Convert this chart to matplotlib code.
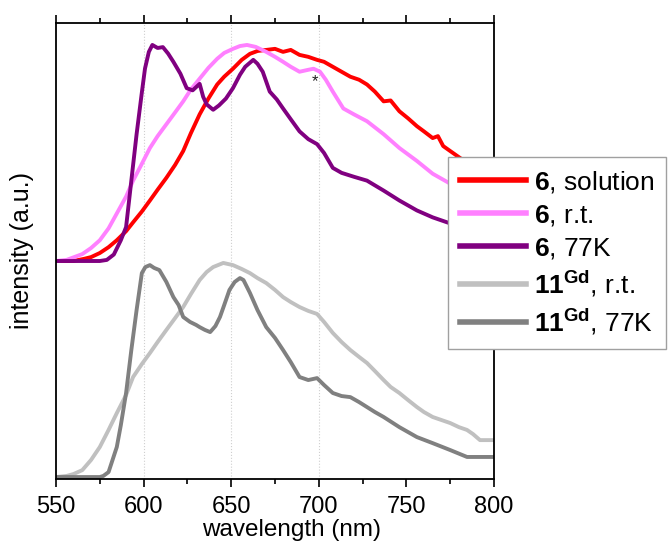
import numpy as np
import matplotlib
matplotlib.use("Agg")
import matplotlib.pyplot as plt
from matplotlib.ticker import MultipleLocator

plt.rcParams["font.family"] = ["Liberation Sans", "DejaVu Sans"]
plt.rcParams["mathtext.fontset"] = "custom"
plt.rcParams["mathtext.rm"] = "Liberation Sans"
plt.rcParams["mathtext.bf"] = "Liberation Sans:bold"

# ---- spectra (normalised emission intensity) ----
wl_6_sol = [550, 560, 566, 570, 575, 580, 584.7, 590, 594, 599, 603.6, 608, 613, 618, 622.6,
            627, 632, 637, 642, 646, 651, 656, 660.7, 665, 670, 675, 679.6, 684, 689, 694,
            699, 703, 708, 713, 718, 723, 727.5, 732, 737, 741, 746, 751, 756, 760, 765, 768,
            771, 775, 780.6, 790, 800]
int_6_sol = [0, 0, 0.01, 0.018, 0.037, 0.064, 0.096, 0.138, 0.179, 0.229, 0.28, 0.33, 0.385,
             0.445, 0.509, 0.592, 0.679, 0.752, 0.817, 0.853, 0.89, 0.931, 0.959, 0.972, 0.977,
             0.982, 0.968, 0.977, 0.954, 0.945, 0.931, 0.922, 0.899, 0.876, 0.853, 0.839, 0.817,
             0.784, 0.739, 0.743, 0.693, 0.66, 0.624, 0.60, 0.569, 0.578, 0.532, 0.509, 0.477,
             0.427, 0.372]

wl_6_rt = [550, 556, 565, 570, 575, 580, 584.7, 590, 594, 599, 603.6, 608, 613, 618, 622.6, 627,
           632, 637, 642, 646, 651, 655, 659, 664, 670, 675, 679.6, 684, 689, 694, 697, 700.7,
           704, 708, 714, 720, 727.5, 737, 746, 756, 765, 775, 785, 800]
int_6_rt = [0, 0.005, 0.032, 0.06, 0.096, 0.151, 0.22, 0.298, 0.372, 0.45, 0.523, 0.578, 0.633,
            0.688, 0.739, 0.794, 0.844, 0.894, 0.936, 0.963, 0.982, 0.995, 1.0, 0.991, 0.968,
            0.945, 0.922, 0.899, 0.876, 0.885, 0.89, 0.876, 0.839, 0.784, 0.706, 0.679, 0.647,
            0.587, 0.523, 0.463, 0.404, 0.358, 0.312, 0.257]

wl_6_77 = [550, 575, 579, 583, 587, 590, 596, 599, 600.8, 603, 605, 608, 611, 614, 617, 621,
           624.6, 628, 632, 634, 636, 639.7, 643, 647, 651, 655, 658, 662.6, 665, 668, 672, 676,
           679.6, 684, 689, 694, 699, 703, 708, 713, 720, 727.5, 737, 746, 756, 765, 775, 785, 800]
int_6_77 = [0, 0, 0.005, 0.03, 0.096, 0.157, 0.587, 0.78, 0.891, 0.968, 1.0, 0.986, 0.99, 0.96,
            0.922, 0.867, 0.80, 0.79, 0.82, 0.76, 0.725, 0.70, 0.72, 0.752, 0.80, 0.862, 0.899,
            0.931, 0.913, 0.876, 0.784, 0.748, 0.706, 0.656, 0.60, 0.564, 0.541, 0.50, 0.431,
            0.408, 0.39, 0.372, 0.326, 0.28, 0.234, 0.202, 0.174, 0.151, 0.119]

wl_11_rt = [550, 556, 560, 565, 570, 575, 580, 584.7, 590, 594, 599, 603.6, 608, 613, 618, 622.6,
            627, 632, 636, 639.7, 645.5, 651, 656, 660.7, 665, 670, 675, 679.6, 684, 689, 694,
            699, 703, 708, 713, 718, 723, 727.5, 732, 737, 741, 746, 751, 756, 760, 765, 770,
            775, 780, 784.6, 788, 792, 800]
int_11_rt = [0, 0.005, 0.014, 0.032, 0.079, 0.139, 0.218, 0.296, 0.38, 0.463, 0.523, 0.574,
             0.625, 0.681, 0.736, 0.787, 0.847, 0.912, 0.949, 0.972, 0.991, 0.981, 0.963, 0.944,
             0.921, 0.898, 0.866, 0.833, 0.81, 0.787, 0.769, 0.755, 0.718, 0.667, 0.625, 0.588,
             0.556, 0.528, 0.491, 0.449, 0.417, 0.389, 0.356, 0.324, 0.301, 0.278, 0.264, 0.25,
             0.231, 0.218, 0.199, 0.171, 0.171]

wl_11_77 = [550, 575, 577, 580, 584.7, 587, 590, 593, 596, 599, 601, 603.6, 606, 609, 613, 617,
            620, 622.6, 626.5, 630, 632, 635, 638, 641, 643.6, 646, 649, 652, 655, 657, 660.7,
            665, 670, 675, 679.6, 684, 689, 694, 699, 703, 708, 713, 718, 723, 727.5, 732, 737,
            746, 756, 765, 775, 784.6, 792, 800]
int_11_77 = [0, 0, 0.005, 0.023, 0.139, 0.24, 0.389, 0.588, 0.773, 0.944, 0.972, 0.981, 0.968,
             0.958, 0.903, 0.833, 0.796, 0.741, 0.718, 0.704, 0.694, 0.681, 0.671, 0.699, 0.741,
             0.796, 0.866, 0.903, 0.921, 0.912, 0.852, 0.773, 0.694, 0.644, 0.588, 0.532, 0.463,
             0.449, 0.458, 0.426, 0.389, 0.375, 0.37, 0.347, 0.324, 0.301, 0.278, 0.231, 0.185,
             0.157, 0.125, 0.093, 0.093, 0.093]

offset_6 = 1.0      # compound 6 spectra are stacked above
offset_11 = 0.0

series = [
    (wl_6_sol, int_6_sol, offset_6, "#ff0000", r"$\mathbf{6}$, solution"),
    (wl_6_rt, int_6_rt, offset_6, "#ff80ff", r"$\mathbf{6}$, r.t."),
    (wl_6_77, int_6_77, offset_6, "#800080", r"$\mathbf{6}$, 77K"),
    (wl_11_rt, int_11_rt, offset_11, "#c0c0c0", r"$\mathbf{11^{Gd}}$, r.t."),
    (wl_11_77, int_11_77, offset_11, "#808080", r"$\mathbf{11^{Gd}}$, 77K"),
]

W, H = 668, 544
fig = plt.figure(figsize=(W / 100, H / 100), dpi=100)
ax = fig.add_axes([56 / W, 1 - 479 / H, (494 - 56) / W, (479 - 22.7) / H])

for x in (600, 650, 700):
    ax.axvline(x, color="#cfcfcf", lw=0.8, ls=":", zorder=0)

handles = []
for wl, inten, off, col, lab in series:
    h, = ax.plot(wl, np.asarray(inten) + off, color=col, lw=2.8, label=lab,
                 solid_joinstyle="round")
    handles.append(h)

ax.text(698, 1.83, "*", fontsize=12, ha="center", va="center", color="#222222")

ax.set_xlim(550, 800)
ax.set_ylim(-0.009, 2.103)
ax.xaxis.set_major_locator(MultipleLocator(50))
ax.xaxis.set_minor_locator(MultipleLocator(25))
ax.tick_params(axis="x", which="major", direction="out", length=6, width=1.2,
               top=True, bottom=True, labelsize=17, pad=6)
ax.tick_params(axis="x", which="minor", direction="out", length=3.5, width=1.2,
               top=True, bottom=True)
ax.tick_params(axis="y", which="both", left=False, right=False, labelleft=False)
for sp in ax.spines.values():
    sp.set_linewidth(1.3)

ax.set_xlabel("wavelength (nm)", fontsize=17.5)
ax.xaxis.set_label_coords((292 - 56) / (494 - 56), -0.088)
ax.set_ylabel("intensity (a.u.)", fontsize=18)
ax.yaxis.set_label_coords(-0.05, 0.5)

leg = fig.legend(handles=handles, loc="upper left",
                 bbox_to_anchor=(448 / W, 1 - 157 / H),
                 bbox_transform=fig.transFigure, borderaxespad=0,
                 fontsize=19, frameon=True, fancybox=False, framealpha=1,
                 edgecolor="#a0a0a0", handlelength=2.5, handletextpad=0.3,
                 labelspacing=0.3, borderpad=0.45)
leg.get_frame().set_linewidth(1.0)
for line in leg.get_lines():
    line.set_linewidth(4)

fig.savefig("out.png", dpi=100)
